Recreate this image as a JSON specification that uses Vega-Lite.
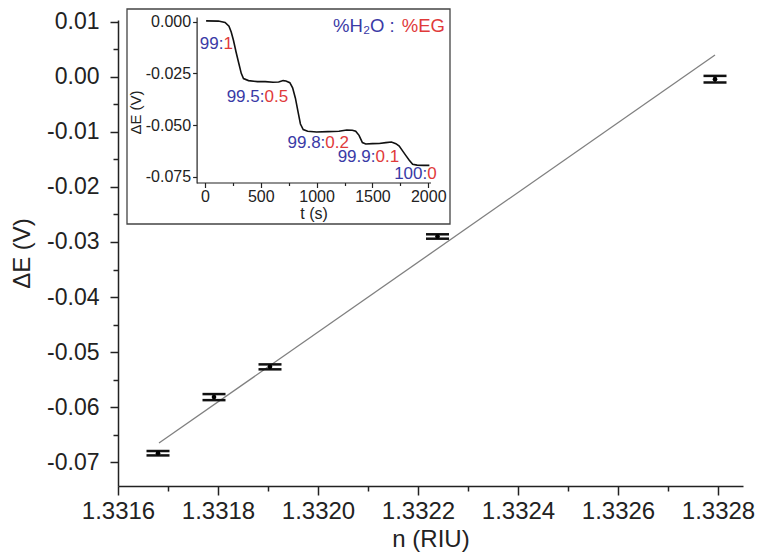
{
  "$schema": "https://vega.github.io/schema/vega-lite/v6.json",
  "width": 625,
  "height": 466,
  "autosize": "none",
  "padding": {"left": 118, "top": 20, "right": 18, "bottom": 69},
  "background": "white",
  "config": {
    "font": "Liberation Sans",
    "view": {"stroke": null},
    "axis": {
      "grid": false,
      "domainColor": "#222",
      "tickColor": "#222",
      "labelColor": "#222",
      "titleColor": "#222",
      "labelFont": "Liberation Sans",
      "titleFont": "Liberation Sans",
      "titleFontWeight": "normal",
      "labelOverlap": false,
      "labelFlush": false
    }
  },
  "datasets": {
    "pts": [
      {"n": 1.33168, "dE": -0.0684, "lo": -0.0688, "hi": -0.0680},
      {"n": 1.331792, "dE": -0.0582, "lo": -0.05875, "hi": -0.05765},
      {"n": 1.331904, "dE": -0.0527, "lo": -0.05315, "hi": -0.05225},
      {"n": 1.332239, "dE": -0.0290, "lo": -0.0294, "hi": -0.0286},
      {"n": 1.332794, "dE": -0.0004, "lo": -0.0010, "hi": 0.0002}
    ],
    "fit": [
      {"n": 1.331682, "dE": -0.06655},
      {"n": 1.332794, "dE": 0.0040}
    ],
    "frame": [
      {"n": 1.331618, "n2": 1.332264, "dE": 0.01236, "dE2": -0.02673}
    ],
    "curve": [
      {"t": 10, "v": 0.0004}, {"t": 120, "v": 0.0003}, {"t": 180, "v": -0.0004},
      {"t": 215, "v": -0.0022}, {"t": 235, "v": -0.005}, {"t": 255, "v": -0.009},
      {"t": 280, "v": -0.015}, {"t": 300, "v": -0.0195}, {"t": 325, "v": -0.025},
      {"t": 345, "v": -0.0275}, {"t": 390, "v": -0.0285}, {"t": 470, "v": -0.029},
      {"t": 540, "v": -0.029}, {"t": 610, "v": -0.0293}, {"t": 660, "v": -0.0292},
      {"t": 700, "v": -0.0285}, {"t": 725, "v": -0.0287}, {"t": 760, "v": -0.0295},
      {"t": 785, "v": -0.032}, {"t": 810, "v": -0.037}, {"t": 835, "v": -0.044},
      {"t": 855, "v": -0.0495}, {"t": 880, "v": -0.0522}, {"t": 920, "v": -0.053},
      {"t": 1000, "v": -0.0534}, {"t": 1100, "v": -0.0532}, {"t": 1200, "v": -0.053},
      {"t": 1270, "v": -0.0524}, {"t": 1320, "v": -0.0525}, {"t": 1350, "v": -0.053},
      {"t": 1380, "v": -0.055}, {"t": 1410, "v": -0.0585}, {"t": 1440, "v": -0.0592},
      {"t": 1500, "v": -0.059}, {"t": 1560, "v": -0.0589}, {"t": 1620, "v": -0.0585},
      {"t": 1670, "v": -0.0582}, {"t": 1710, "v": -0.059}, {"t": 1740, "v": -0.0602},
      {"t": 1770, "v": -0.0625}, {"t": 1800, "v": -0.0648}, {"t": 1830, "v": -0.067},
      {"t": 1860, "v": -0.069}, {"t": 1900, "v": -0.0694}, {"t": 1960, "v": -0.0695},
      {"t": 2010, "v": -0.0695}
    ],
    "labels": [
      {"t": 165, "v": -0.0106, "text": "99:", "part": "w", "fs": 17},
      {"t": 165, "v": -0.0106, "text": "1", "part": "e", "fs": 17},
      {"t": 533, "v": -0.0363, "text": "99.5:", "part": "w", "fs": 17},
      {"t": 533, "v": -0.0363, "text": "0.5", "part": "e", "fs": 17},
      {"t": 1078, "v": -0.0585, "text": "99.8:", "part": "w", "fs": 17},
      {"t": 1078, "v": -0.0585, "text": "0.2", "part": "e", "fs": 17},
      {"t": 1527, "v": -0.0657, "text": "99.9:", "part": "w", "fs": 17},
      {"t": 1527, "v": -0.0657, "text": "0.1", "part": "e", "fs": 17},
      {"t": 1991, "v": -0.0736, "text": "100:", "part": "w", "fs": 17},
      {"t": 1991, "v": -0.0736, "text": "0", "part": "e", "fs": 17},
      {"t": 1700, "v": -0.0021, "text": "%H₂O :", "part": "w", "fs": 18.5},
      {"t": 1762, "v": -0.0021, "text": "%EG", "part": "e", "fs": 18.5}
    ]
  },
  "layer": [
    {
      "encoding": {
        "x": {
          "field": "n",
          "type": "quantitative",
          "scale": {"domain": [1.3316, 1.33285], "nice": false, "zero": false},
          "axis": {
            "title": "n (RIU)",
            "orient": "bottom",
            "values": [1.3316, 1.3317, 1.3318, 1.3319, 1.332, 1.3321, 1.3322, 1.3323, 1.3324, 1.3325, 1.3326, 1.3327, 1.3328],
            "labelExpr": "round(datum.value*10000) % 2 == 0 ? format(datum.value, '.4f') : ''",
            "tickSize": {"condition": {"test": "round(datum.value*10000) % 2 == 0", "value": 9}, "value": 5},
            "tickWidth": 1.5,
            "domainWidth": 1.5,
            "labelFontSize": 24,
            "titleFontSize": 24,
            "labelPadding": 4,
            "titlePadding": 4
          }
        },
        "y": {
          "field": "dE",
          "type": "quantitative",
          "scale": {"domain": [-0.07436, 0.01036], "nice": false, "zero": false},
          "axis": {
            "title": "ΔE (V)",
            "orient": "left",
            "values": [0.01, 0.005, 0, -0.005, -0.01, -0.015, -0.02, -0.025, -0.03, -0.035, -0.04, -0.045, -0.05, -0.055, -0.06, -0.065, -0.07],
            "labelExpr": "abs(datum.value*100 - round(datum.value*100)) < 0.001 ? replace(format(datum.value, '.2f'), '−', '-') : ''",
            "tickSize": {"condition": {"test": "abs(datum.value*100 - round(datum.value*100)) < 0.001", "value": 8}, "value": 5},
            "tickWidth": 1.5,
            "domainWidth": 1.5,
            "labelFontSize": 23,
            "titleFontSize": 24,
            "labelPadding": 11,
            "titlePadding": 12
          }
        }
      },
      "layer": [
        {
          "data": {"name": "frame"},
          "mark": {"type": "rect", "fillOpacity": 0, "stroke": "#444", "strokeWidth": 1.3},
          "encoding": {"x2": {"field": "n2"}, "y2": {"field": "dE2"}}
        },
        {
          "data": {"name": "fit"},
          "mark": {"type": "line", "color": "#808080", "strokeWidth": 1.3}
        },
        {
          "data": {"name": "pts"},
          "mark": {"type": "rule", "color": "#111", "strokeWidth": 1.5},
          "encoding": {
            "y": {"field": "lo", "type": "quantitative", "scale": {"domain": [-0.07436, 0.01036], "nice": false, "zero": false}, "title": "ΔE (V)"},
            "y2": {"field": "hi"}
          }
        },
        {
          "data": {"name": "pts"},
          "mark": {"type": "tick", "orient": "horizontal", "size": 23, "thickness": 2.5, "color": "#111", "opacity": 1},
          "encoding": {
            "y": {"field": "lo", "type": "quantitative", "scale": {"domain": [-0.07436, 0.01036], "nice": false, "zero": false}, "title": "ΔE (V)"}
          }
        },
        {
          "data": {"name": "pts"},
          "mark": {"type": "tick", "orient": "horizontal", "size": 23, "thickness": 2.5, "color": "#111", "opacity": 1},
          "encoding": {
            "y": {"field": "hi", "type": "quantitative", "scale": {"domain": [-0.07436, 0.01036], "nice": false, "zero": false}, "title": "ΔE (V)"}
          }
        },
        {
          "data": {"name": "pts"},
          "mark": {"type": "point", "filled": true, "color": "#000", "size": 22, "opacity": 1}
        }
      ]
    },
    {
      "encoding": {
        "x": {
          "field": "t",
          "type": "quantitative",
          "scale": {"domain": [-75, 2020], "range": [78.6, 312.5], "nice": false, "zero": false},
          "axis": {
            "title": "t (s)",
            "orient": "bottom",
            "offset": -303.5,
            "values": [0, 250, 500, 750, 1000, 1250, 1500, 1750, 2000],
            "labelExpr": "datum.value % 500 == 0 ? format(datum.value, 'd') : ''",
            "tickSize": {"condition": {"test": "datum.value % 500 == 0", "value": 5}, "value": 3},
            "tickWidth": 1.2,
            "domainWidth": 1.2,
            "labelFontSize": 16,
            "titleFontSize": 16,
            "labelPadding": 1,
            "titlePadding": 1
          }
        },
        "y": {
          "field": "v",
          "type": "quantitative",
          "scale": {"domain": [-0.078, 0.0023], "range": [162.9, -3.05], "nice": false, "zero": false},
          "axis": {
            "title": "ΔE (V)",
            "orient": "left",
            "offset": -78.6,
            "values": [0, -0.025, -0.05, -0.075],
            "labelExpr": "replace(format(datum.value, '.3f'), '−', '-')",
            "tickSize": 4,
            "tickWidth": 1.2,
            "domainWidth": 1.2,
            "labelFontSize": 16,
            "titleFontSize": 15,
            "labelPadding": 2,
            "titlePadding": 2,
            "titleY": 92
          }
        }
      },
      "layer": [
        {
          "data": {"name": "curve"},
          "mark": {"type": "line", "color": "#111", "strokeWidth": 1.6}
        },
        {
          "data": {"name": "labels"},
          "transform": [{"filter": "datum.part == 'w'"}],
          "mark": {"type": "text", "align": "right", "baseline": "middle", "color": "#3a3aa6"},
          "encoding": {"text": {"field": "text"}, "size": {"field": "fs", "type": "quantitative", "scale": null}}
        },
        {
          "data": {"name": "labels"},
          "transform": [{"filter": "datum.part == 'e'"}],
          "mark": {"type": "text", "align": "left", "baseline": "middle", "color": "#e03a3a"},
          "encoding": {"text": {"field": "text"}, "size": {"field": "fs", "type": "quantitative", "scale": null}}
        }
      ]
    }
  ],
  "resolve": {"scale": {"x": "independent", "y": "independent"}}
}
